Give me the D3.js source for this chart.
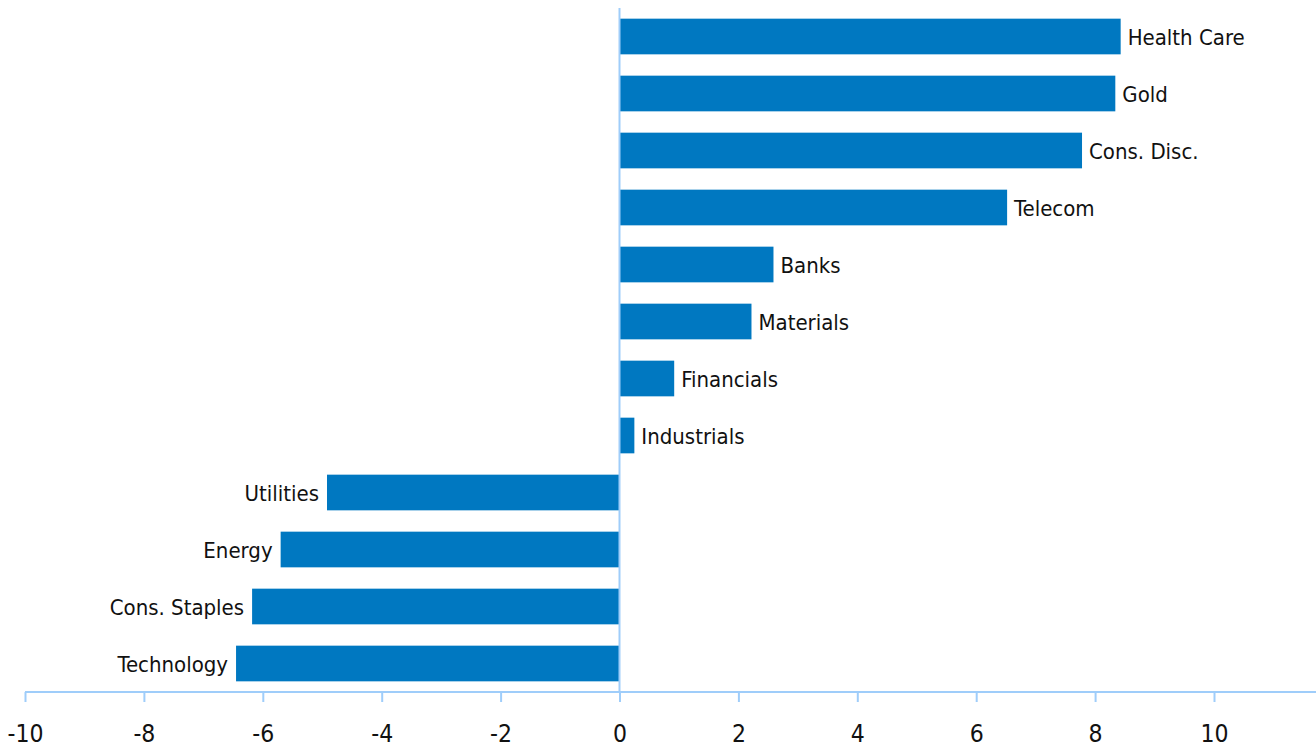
<!DOCTYPE html>
<html>
<head>
<meta charset="utf-8">
<script src="https://cdn.jsdelivr.net/npm/d3@7"></script>
<style>
  html, body { margin: 0; padding: 0; background: #fff; }
  svg { display: block; }
  text { font-family: "DejaVu Sans Condensed", "Liberation Sans Narrow", "Noto Sans", sans-serif; fill: #111; }
</style>
</head>
<body>
<svg id="chart" width="1316" height="748"></svg>
<script>
// Sector returns, top to bottom
const sectors = ["Health Care", "Gold", "Cons. Disc.", "Telecom", "Banks", "Materials",
                 "Financials", "Industrials", "Utilities", "Energy", "Cons. Staples", "Technology"];
const values = [8.43, 8.34, 7.78, 6.52, 2.59, 2.22, 0.92, 0.25, -4.92, -5.70, -6.18, -6.45];
const tickValues = [-10, -8, -6, -4, -2, 0, 2, 4, 6, 8, 10];

const svg = d3.select("#chart");
const W = 1316, H = 748;

const x = d3.scaleLinear().domain([-10, 12]).range([25, 25 + 22 * 59.45]);
const y = d3.scaleBand().domain(sectors).range([8, 692]).paddingInner(0.374).paddingOuter(0.187);

const axisColor = "#9fcdfa";
const barColor = "#0078c1";

const data = sectors.map((s, i) => ({ name: s, value: values[i] }));

// bars
svg.append("g").selectAll("rect").data(data).join("rect")
  .attr("x", d => x(Math.min(0, d.value)))
  .attr("y", d => y(d.name))
  .attr("width", d => Math.abs(x(d.value) - x(0)))
  .attr("height", y.bandwidth())
  .attr("fill", barColor);

// bar labels
svg.append("g").selectAll("text").data(data).join("text")
  .attr("x", d => d.value >= 0 ? x(d.value) + 7 : x(d.value) - 8)
  .attr("y", d => y(d.name) + y.bandwidth() / 2 + 1)
  .attr("dy", "0.35em")
  .attr("text-anchor", d => d.value >= 0 ? "start" : "end")
  .style("font-size", "22px")
  .text(d => d.name);

// bottom axis (plain hyphen for negatives)
const xAxis = d3.axisBottom(x).tickValues(tickValues).tickSize(10).tickPadding(23)
  .tickFormat(d => String(d));
const gx = svg.append("g").attr("transform", "translate(0,692)").call(xAxis);
gx.select(".domain").attr("stroke", axisColor).attr("stroke-width", 2)
  .attr("d", `M${x(-10)},0H${W}`);
gx.selectAll(".tick line").attr("stroke", axisColor).attr("stroke-width", 2);
gx.selectAll(".tick text").style("font-size", "24.5px")
  .style("font-family", "'DejaVu Sans Condensed', sans-serif").attr("fill", "#111");

// zero line
svg.append("line")
  .attr("x1", x(0)).attr("x2", x(0))
  .attr("y1", 8).attr("y2", 692)
  .attr("stroke", axisColor).attr("stroke-width", 2);
</script>
</body>
</html>
